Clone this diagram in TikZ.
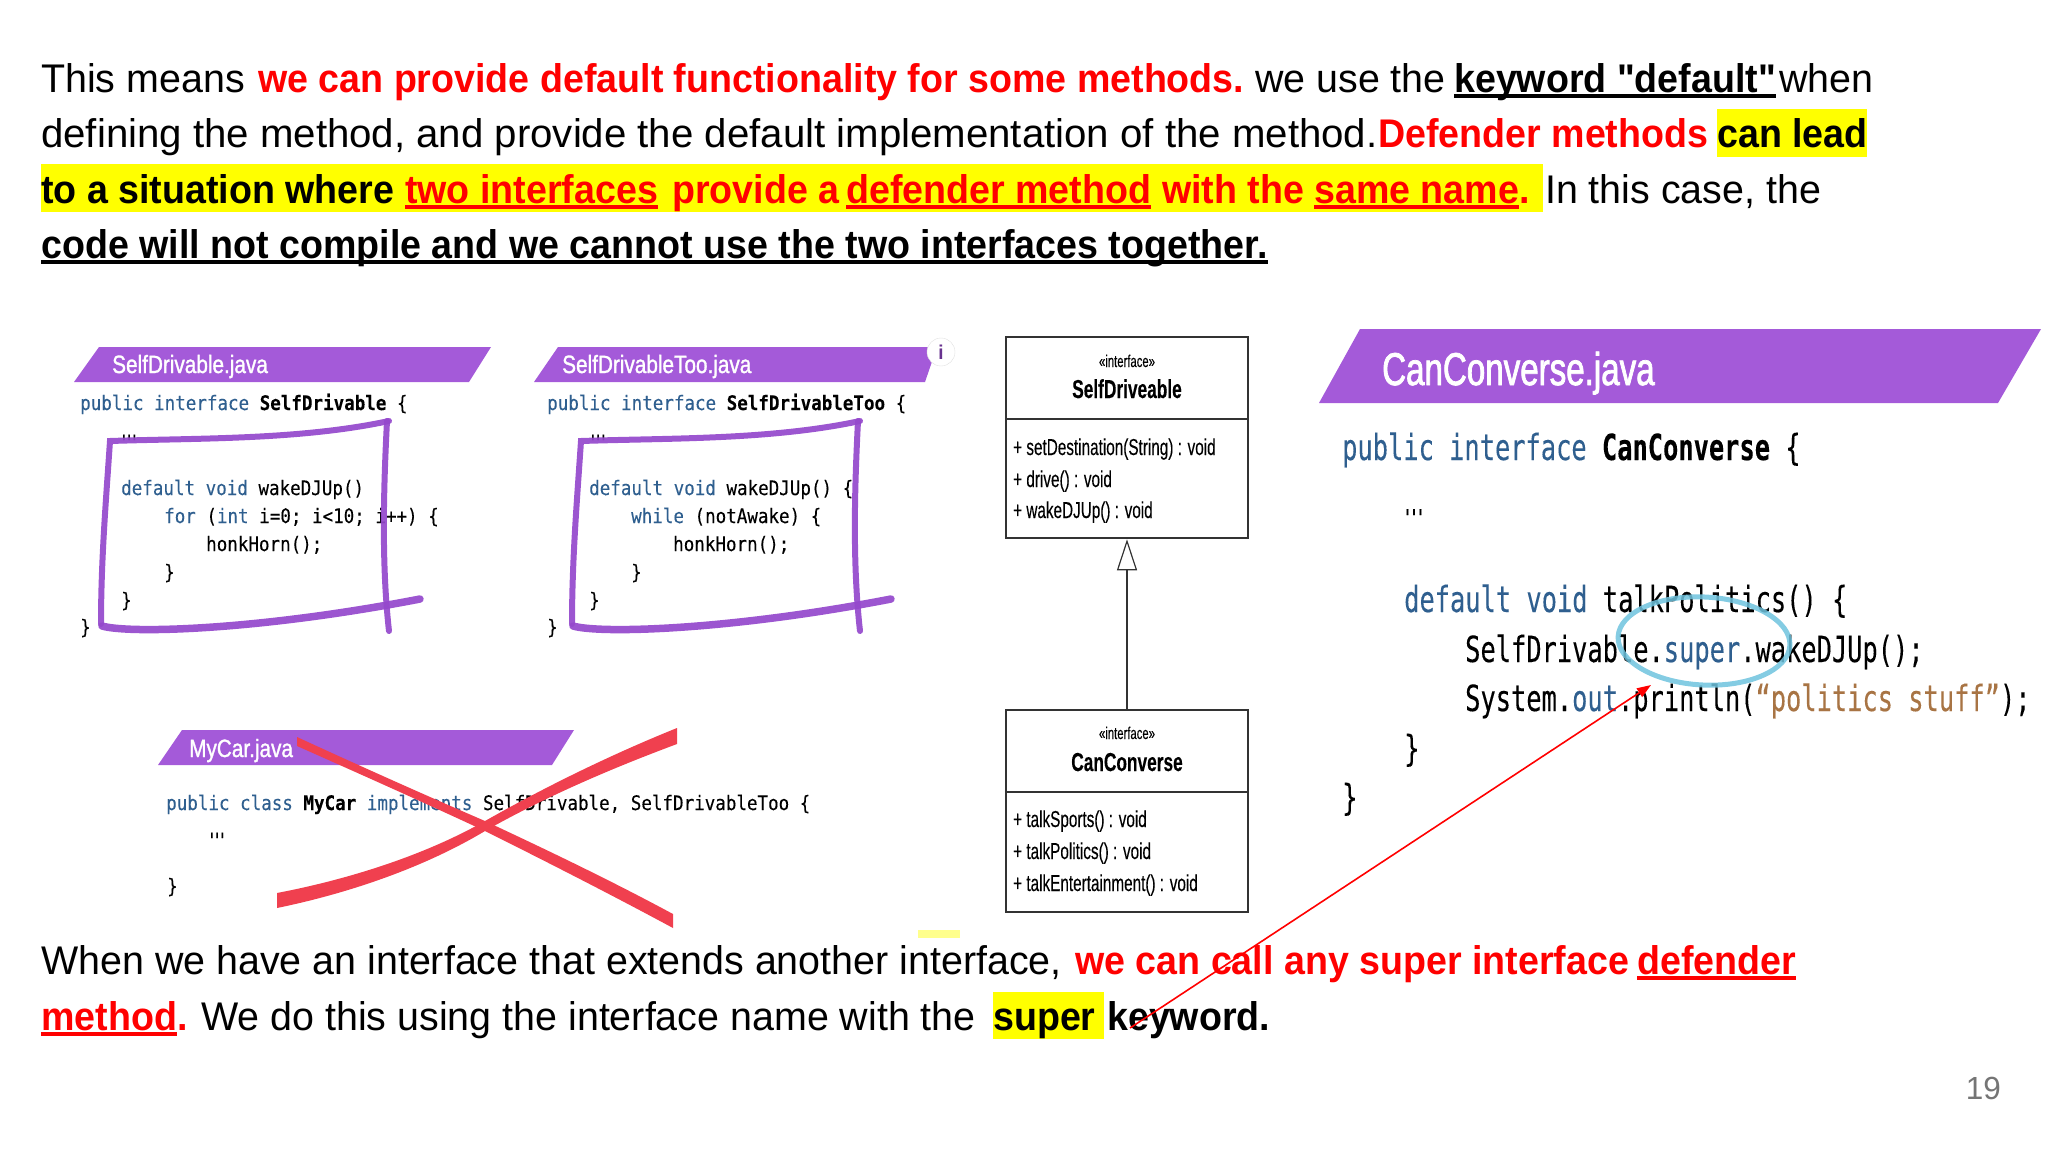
\documentclass[tikz,border=0pt]{standalone}
\usepackage{fontspec}
\usepackage{tikz}
\usetikzlibrary{arrows.meta, positioning}
\setmainfont{Liberation Sans}
\newfontfamily\bodyfont[FakeStretch=.985, BoldFeatures={FakeStretch=.94}]{Liberation Sans}
\newfontfamily\widefont[FakeStretch=1.005]{Liberation Sans}
\newfontfamily\headfont[FakeStretch=.83, FakeBold=1.2]{Liberation Sans}
\newfontfamily\bighead[FakeStretch=.72, FakeBold=1.6]{Liberation Sans}
\newfontfamily\umlfont[FakeStretch=.665, FakeBold=.2]{Liberation Sans}
\newfontfamily\codefont[FakeStretch=.877, FakeBold=.15]{DejaVu Sans Mono}
\newfontfamily\bigcode[FakeStretch=.705, FakeBold=.15]{DejaVu Sans Mono}
\definecolor{bannerpurple}{HTML}{A45AD9}
\definecolor{markpurple}{HTML}{9448CC}
\definecolor{keyblue}{HTML}{2F5F8F}
\definecolor{strbrown}{HTML}{A87444}
\definecolor{crossred}{HTML}{F0404F}
\definecolor{ringblue}{HTML}{6FC3DE}
\definecolor{umlgray}{HTML}{333333}
\definecolor{pagegray}{HTML}{757575}
\definecolor{hiyellow}{HTML}{FFFF00}
\newcommand{\kw}[1]{\textcolor{keyblue}{#1}}
\newcommand{\cls}[1]{\textbf{#1}}
\newcommand{\rb}[1]{\textcolor{red}{\textbf{#1}}}
\newcommand{\codedots}{\scalebox{1}[3]{\fontsize{10}{10}\selectfont\textbf{...}}}
\tikzset{
    run/.style={anchor=base west, inner sep=0pt, font=\bodyfont\fontsize{40}{40}\selectfont},
    hilite/.style={fill=hiyellow, draw=none},
    banner/.style={fill=bannerpurple, draw=none},
    bannertext/.style={anchor=base west, inner sep=0pt, text=white, font=\headfont\fontsize{25}{25}\selectfont},
    codeline/.style={anchor=base west, inner sep=0pt, font=\codefont\fontsize{20}{20}\selectfont},
    bigline/.style={anchor=base west, inner sep=0pt, font=\bigcode\fontsize{36}{36}\selectfont},
    penmark/.style={draw=markpurple, line width=6pt, opacity=.92, line cap=round},
    umlbox/.style={draw=umlgray, line width=2.5pt, fill=white, minimum width=242pt, inner sep=0pt},
    stereo/.style={inner sep=0pt, anchor=base, font=\umlfont\fontsize{17}{17}\selectfont},
    umlname/.style={inner sep=0pt, anchor=base, font=\umlfont\bfseries\fontsize{26}{26}\selectfont},
    member/.style={inner sep=0pt, anchor=base west, font=\umlfont\fontsize{23}{23}\selectfont},
    ulrule/.style={line width=3.5pt},
}
\begin{document}
\begin{tikzpicture}[x=1pt, y=-1pt]
    \useasboundingbox (0,0) rectangle (2048,1152);

    % Highlights
    \fill[hilite] (1717,109) rectangle (1867,157);
    \fill[hilite] (41,164) rectangle (1543,212);
    \fill[hilite] (993,992) rectangle (1104,1039);

    % Top paragraph
    \node[run] (thismeans) at (41,92) {This means};
    \node[run] (provide) at (258,92) {\rb{we can provide default functionality for some methods.}};
    \node[run] (weuse) at (1255,92) {we use the};
    \node[run] (keyword) at (1454,92) {\textbf{keyword "default"}};
    \node[run] (when) at (1779,92) {when};
    \node[run, font=\widefont\fontsize{40}{40}\selectfont] (defining) at (41,147) {defining the method, and provide the default implementation of the method.};
    \node[run] (defender) at (1378,147) {\rb{Defender methods}};
    \node[run] (canlead) at (1717,147) {\textbf{can lead}};
    \node[run] (situation) at (41,203) {\textbf{to a situation where}};
    \node[run] (twoif) at (405,203) {\rb{two interfaces}};
    \node[run] (providea) at (672,203) {\rb{provide a}};
    \node[run] (defmethod) at (846,203) {\rb{defender method}};
    \node[run] (withthe) at (1162,203) {\rb{with the}};
    \node[run] (samename) at (1314,203) {\rb{same name}};
    \node[run, right=0pt of samename.base east, anchor=base west] (samedot) {\rb{.}};
    \node[run] (incase) at (1545,203) {In this case, the};
    \node[run] (nocompile) at (41,258) {\textbf{code will not compile and we cannot use the two interfaces together.}};

    % SelfDrivable panel
    \fill[banner] (99,347) -- (491,347) -- (469,382) -- (74,382) -- cycle;
    \node[bannertext] (selfname) at (112,373) {SelfDrivable.java};
    \node[codeline] (selfhead) at (80,410) {\kw{public interface} \cls{SelfDrivable} \{};
    \node[codeline] (selfdots) at (121,440) {\codedots};
    \node[codeline] (selfdef) at (121,495) {\kw{default void} wakeDJUp()};
    \node[codeline] (selffor) at (164,523) {\kw{for} (\kw{int} i=0; i<10; i++) \{};
    \node[codeline] (selfhonk) at (206,551) {honkHorn();};
    \node[codeline] (selfa) at (164,579) {\}};
    \node[codeline] (selfb) at (121,607) {\}};
    \node[codeline] (selfc) at (80,634) {\}};

    % SelfDrivableToo panel
    \fill[banner] (558,347) -- (937,347) -- (925,382) -- (534,382) -- cycle;
    \node[bannertext] (tooname) at (562,373) {SelfDrivableToo.java};
    \node[circle, draw=black!12, fill=white, minimum size=28pt, inner sep=0pt, text=markpurple!70!black, font=\bodyfont\bfseries\fontsize{20}{20}\selectfont] (infomark) at (941,352) {i};
    \node[codeline] (toohead) at (547,410) {\kw{public interface} \cls{SelfDrivableToo} \{};
    \node[codeline] (toodots) at (590,440) {\codedots};
    \node[codeline] (toodef) at (589,495) {\kw{default void} wakeDJUp() \{};
    \node[codeline] (toowhile) at (631,523) {\kw{while} (notAwake) \{};
    \node[codeline] (toohonk) at (673,551) {honkHorn();};
    \node[codeline] (tooa) at (631,579) {\}};
    \node[codeline] (toob) at (589,607) {\}};
    \node[codeline] (tooc) at (547,634) {\}};

    % Hand drawn boxes
    \foreach \dx in {0,471} {
        \begin{scope}[xshift=\dx pt]
            \draw[penmark] (389,421) .. controls (300,440) and (200,438) .. (110,441)
                .. controls (106,500) and (101,560) .. (101,624);
            \draw[penmark] (387,421) .. controls (384,480) and (381,560) .. (389,631);
            \draw[penmark, line width=7.5pt] (102,626) .. controls (130,634) and (260,630) .. (420,599);
        \end{scope}
    }

    % MyCar panel
    \fill[banner] (182,730) -- (574,730) -- (552,765) -- (158,765) -- cycle;
    \node[bannertext] (carname) at (189,757) {MyCar.java};
    \node[codeline] (carhead) at (166,810) {\kw{public class} \cls{MyCar} \kw{implements} SelfDrivable, SelfDrivableToo \{};
    \node[codeline] (cardots) at (209,838) {\codedots};
    \node[codeline] (carend) at (167,893) {\}};

    % Red cross
    \fill[crossred] (297,737) .. controls (360,766) and (425,795) .. (485,821)
        .. controls (545,849) and (610,880) .. (673,914) -- (673,928)
        .. controls (610,894) and (545,861) .. (485,831)
        .. controls (425,803) and (360,774) .. (297,746) -- cycle;
    \fill[crossred] (677,728) .. controls (610,755) and (545,787) .. (485,821)
        .. controls (425,855) and (350,879) .. (277,893) -- (277,908)
        .. controls (350,893) and (425,867) .. (485,831)
        .. controls (545,797) and (610,769) .. (677,744) -- cycle;

    % Uml boxes
    \node[umlbox, minimum height=201pt] (selfbox) at (1127,437.5) {};
    \node[umlbox, minimum height=202pt] (canbox) at (1127,811) {};
    \draw[umlgray, line width=2.5pt] (selfbox.west |- 0,419) -- (selfbox.east |- 0,419);
    \draw[umlgray, line width=2.5pt] (canbox.west |- 0,792) -- (canbox.east |- 0,792);
    \draw[umlgray, line width=1.2pt, -{Triangle[open, length=31pt, width=20pt]}] (canbox.north) -- (selfbox.south);

    \node[stereo] (selfstereo) at (1127,367) {«interface»};
    \node[umlname] (selfuml) at (1127,398) {SelfDriveable};
    \node[member] (setdest) at (1013,455) {+ setDestination(String) : void};
    \node[member] (drive) at (1013,487) {+ drive() : void};
    \node[member] (wakeup) at (1013,518) {+ wakeDJUp() : void};
    \node[stereo] (canstereo) at (1127,739) {«interface»};
    \node[umlname] (canuml) at (1127,771) {CanConverse};
    \node[member] (sports) at (1013,827) {+ talkSports() : void};
    \node[member] (politics) at (1013,859) {+ talkPolitics() : void};
    \node[member] (enter) at (1013,891) {+ talkEntertainment() : void};

    % CanConverse panel
    \fill[banner] (1360,329) -- (2041,329) -- (1998,403) -- (1319,403) -- cycle;
    \node[bannertext, font=\bighead\fontsize{46}{46}\selectfont] (bigname) at (1382,385) {CanConverse.java};
    \node[bigline] (bighead) at (1342,460) {\kw{public interface} \cls{CanConverse} \{};
    \node[bigline] (bigdots) at (1404,515) {\scalebox{1.4}[3]{\fontsize{11}{11}\selectfont\textbf{...}}};
    \node[bigline] (bigdef) at (1404,612) {\kw{default void} talkPolitics() \{};
    \node[bigline] (bigsuper) at (1465,662) {SelfDrivable.\kw{super}.wakeDJUp();};
    \node[bigline] (bigprint) at (1465,711) {System.\kw{out}.println(\textcolor{strbrown}{“politics stuff”});};
    \node[bigline] (bigenda) at (1404,761) {\}};
    \node[bigline] (bigendb) at (1342,810) {\}};
    \draw[ringblue, line width=5pt, opacity=.85, rotate around={-3:(1704,641)}] (1704,641) ellipse (86pt and 44pt);

    % Bottom paragraph
    \node[run] (whenwe) at (41,974) {When we have an interface that extends another interface,};
    \node[run] (wecan) at (1075,974) {\rb{we can call any super interface}};
    \node[run] (deflow) at (1637,974) {\rb{defender}};
    \node[run] (methodlow) at (41,1030) {\rb{method}};
    \node[run, right=0pt of methodlow.base east, anchor=base west] (methoddot) {\rb{.}};
    \node[run] (wedo) at (201,1030) {We do this using the interface name with the};
    \node[run] (superword) at (993,1030) {\textbf{super}};
    \node[run] (keywordlow) at (1107,1030) {\textbf{keyword.}};

    % Underlines
    \foreach \n/\c in {keyword/black, nocompile/black, twoif/red, defmethod/red, samename/red, deflow/red, methodlow/red} {
        \draw[ulrule, \c] ([yshift=-4pt]\n.base west) -- ([yshift=-4pt]\n.base east);
    }

    % Red pointer
    \coordinate (pointerstart) at (1130,1028);
    \coordinate (pointertip) at (1651,685);
    \draw[red, line width=1.6pt, -{Triangle[length=14pt, width=10pt]}] (pointerstart) -- (pointertip);

    \fill[hiyellow!45] (918,930) rectangle (960,938);
    \node[anchor=base east, inner sep=0pt, text=pagegray, font=\bodyfont\fontsize{32}{32}\selectfont] (pagenum) at (2001,1099) {19};
\end{tikzpicture}
\end{document}
